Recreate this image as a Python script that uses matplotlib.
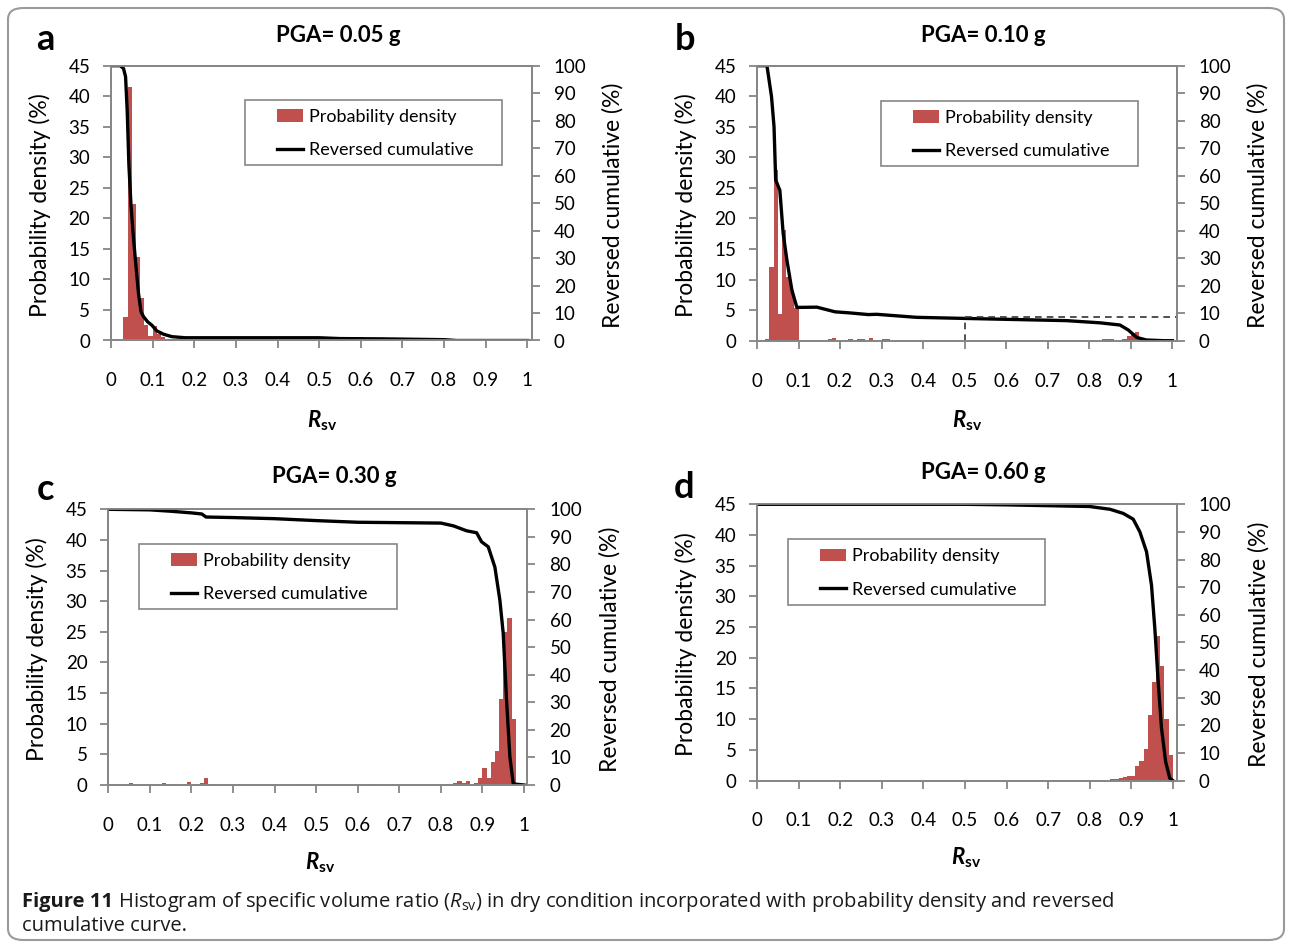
import numpy as np
import matplotlib
matplotlib.use("Agg")
import matplotlib.pyplot as plt
from matplotlib.patches import Patch, Rectangle, FancyBboxPatch
from matplotlib.lines import Line2D
from matplotlib.text import Annotation

# ---------------- data ----------------
titles = ["PGA= 0.05 g", "PGA= 0.10 g", "PGA= 0.30 g", "PGA= 0.60 g"]
letters = ["a", "b", "c", "d"]
xtick_vals = [0, 0.1, 0.2, 0.3, 0.4, 0.5, 0.6, 0.7, 0.8, 0.9, 1.0]
xtick_labels = ["0", "0.1", "0.2", "0.3", "0.4", "0.5", "0.6", "0.7", "0.8", "0.9", "1"]
legend_labels = ["Probability density", "Reversed cumulative"]

# histogram bins (left edge, width 0.01) and probability density (%)
a_bin = [0.03, 0.04, 0.05, 0.06, 0.07, 0.08, 0.09, 0.10, 0.11, 0.12, 0.13, 0.14, 0.15, 0.16, 0.17]
a_pd = [3.8, 41.5, 22.3, 13.6, 7.0, 2.5, 0.8, 2.3, 1.1, 0.5, 0.3, 0.2, 0.2, 0.1, 0.1]
a_cx = [0, 0.022, 0.030, 0.035, 0.039, 0.043, 0.048, 0.054, 0.059, 0.066, 0.072, 0.078, 0.088,
        0.098, 0.110, 0.126, 0.146, 0.178, 0.30, 0.50, 0.55, 0.65, 0.80, 0.83, 1.0]
a_cy = [100, 100, 99, 96, 83.3, 63.9, 49.3, 37.2, 28.7, 17.2, 10.5, 8.7, 6.8,
        5.6, 3.5, 2.3, 1.4, 1.0, 1.0, 1.0, 0.7, 0.6, 0.3, 0, 0]

b_bin = [0.02, 0.03, 0.04, 0.05, 0.06, 0.07, 0.08, 0.09, 0.17, 0.18, 0.22, 0.24, 0.25, 0.27,
         0.30, 0.31, 0.38, 0.46, 0.83, 0.84, 0.85, 0.88, 0.89, 0.90, 0.91, 0.92]
b_pd = [0.2, 12.1, 28.0, 4.3, 18.1, 10.5, 8.3, 5.3, 0.3, 0.5, 0.2, 0.2, 0.2, 0.4,
        0.2, 0.3, 0.1, 0.1, 0.3, 0.3, 0.3, 0.3, 0.7, 1.3, 1.4, 0.5]
b_cx = [0, 0.024, 0.035, 0.041, 0.045, 0.055, 0.063, 0.072, 0.084, 0.096, 0.144, 0.188, 0.224,
        0.268, 0.288, 0.384, 0.50, 0.745, 0.826, 0.874, 0.894, 0.914, 0.938, 0.98, 1.0]
b_cy = [100, 100, 88.7, 77.8, 58.4, 54.7, 39.0, 29.3, 18.4, 12.1, 12.2, 10.5, 10.1,
        9.5, 9.6, 8.5, 8.1, 7.3, 6.5, 5.7, 3.9, 1.2, 0.25, 0, 0]
b_ref_x = 0.5
b_ref_y = 8.7

c_bin = [0.05, 0.13, 0.14, 0.15, 0.18, 0.19, 0.22, 0.23, 0.24, 0.45, 0.47, 0.63, 0.64, 0.81, 0.82,
         0.83, 0.84, 0.85, 0.86, 0.87, 0.88, 0.89, 0.90, 0.91, 0.92, 0.93, 0.94, 0.95, 0.96,
         0.97, 0.98, 0.99]
c_pd = [0.4, 0.4, 0.2, 0.2, 0.2, 0.5, 0.3, 1.1, 0.2, 0.2, 0.2, 0.2, 0.2, 0.2, 0.1,
        0.4, 0.6, 0.4, 0.6, 0.2, 0.4, 1.1, 2.7, 1.2, 3.8, 5.6, 14.0, 24.9, 27.2,
        10.7, 0.3, 0.1]
c_cx = [0, 0.10, 0.15, 0.20, 0.225, 0.235, 0.30, 0.40, 0.50, 0.60, 0.80, 0.83, 0.862, 0.886,
        0.898, 0.914, 0.930, 0.942, 0.950, 0.958, 0.966, 0.974, 0.98, 1.0]
c_cy = [100, 99.8, 99.3, 98.7, 98.3, 97.2, 97.0, 96.6, 95.9, 95.3, 95.0, 94.0, 92.2, 91.5,
        88.2, 86.4, 79.0, 67.0, 55.0, 30.8, 10.3, 0.6, 0.3, 0]

d_bin = [0.55, 0.75, 0.79, 0.83, 0.85, 0.86, 0.87, 0.88, 0.89, 0.90, 0.91, 0.92, 0.93, 0.94,
         0.95, 0.96, 0.97, 0.98, 0.99]
d_pd = [0.1, 0.1, 0.1, 0.1, 0.3, 0.3, 0.45, 0.65, 0.7, 0.75, 2.3, 3.2, 5.1, 10.7,
        16.0, 23.6, 18.6, 10.1, 4.2]
d_cx = [0, 0.50, 0.60, 0.70, 0.80, 0.849, 0.881, 0.905, 0.921, 0.937, 0.949, 0.957, 0.965,
        0.973, 0.983, 0.993, 1.0]
d_cy = [100, 100, 99.8, 99.5, 99.2, 98.2, 96.7, 94.6, 90.0, 82.8, 70.7, 55.0, 35.9,
        19.0, 6.8, 0.8, 0]

bins = [a_bin, b_bin, c_bin, d_bin]
pds = [a_pd, b_pd, c_pd, d_pd]
cxs = [a_cx, b_cx, c_cx, d_cx]
cys = [a_cy, b_cy, c_cy, d_cy]

# ---------------- style ----------------
W, H = 1292, 947
RED = "#C0504D"
GRAY = "#868686"
FONT = "Lato"
plt.rcParams["font.family"] = [FONT, "DejaVu Sans"]
plt.rcParams["mathtext.fontset"] = "custom"
plt.rcParams["mathtext.rm"] = "Open Sans"
plt.rcParams["mathtext.it"] = "Open Sans:italic"
plt.rcParams["mathtext.bf"] = "Lato:bold"
try:
    plt.rcParams["mathtext.bfit"] = "Lato:italic:bold"
    XLAB = r"$\mathbfit{R}_{\mathbf{sv}}$"
except KeyError:
    XLAB = r"$\mathbf{R}_{\mathbf{sv}}$"

fig = plt.figure(figsize=(W / 100, H / 100), dpi=100)

def fx(px):
    return px / W

def fy(py):
    return 1 - py / H

# layout in pixels: left(x=0), x=1 position, right axis, top, bottom
layouts = [
    dict(l=111, one=527.3, r=531.7, t=65.7, b=340.5, ylab_l=40, ylab_r=613, xlab=(322, 427),
         title=(338, 42), letter=(45, 50), leg=(245, 100, 257, 65)),
    dict(l=757, one=1172.3, r=1176.7, t=65.7, b=340.7, ylab_l=686, ylab_r=1258, xlab=(967, 427),
         title=(983, 42), letter=(685, 50), leg=(881, 101, 257, 65)),
    dict(l=108.3, one=524, r=527.3, t=509.3, b=785, ylab_l=37, ylab_r=610, xlab=(320, 869),
         title=(334, 483), letter=(45, 500), leg=(139, 544, 258, 65)),
    dict(l=757.3, one=1172.7, r=1176.7, t=504.3, b=780.5, ylab_l=686, ylab_r=1259, xlab=(966, 864),
         title=(983, 479), letter=(684, 498), leg=(788, 539, 257, 66)),
]

TICK_FS = 13.5
for i, L in enumerate(layouts):
    ax = fig.add_axes([fx(L["l"]), fy(L["b"]), fx(L["r"] - L["l"]), (L["b"] - L["t"]) / H])
    xmax = (L["r"] - L["l"]) / (L["one"] - L["l"])
    ax.bar(bins[i], pds[i], width=0.01, align="edge", color=RED, linewidth=0)
    ax.set_xlim(0, xmax)
    ax.set_ylim(0, 45)
    ax.set_yticks(np.arange(0, 46, 5))
    ax.set_xticks(xtick_vals)
    ax.set_xticklabels(xtick_labels)
    ax.tick_params(axis="both", direction="out", length=6, width=1.3, color=GRAY, labelsize=TICK_FS)
    ax.tick_params(axis="x", pad=17)
    ax.tick_params(axis="y", pad=9)
    ax2 = ax.twinx()
    ax2.plot(cxs[i], cys[i], color="black", lw=2.4, solid_joinstyle="round")
    if i == 1:
        ax2.plot([b_ref_x, b_ref_x], [0, b_ref_y], color="#333333", lw=1.2, ls=(0, (4, 3)))
        ax2.plot([b_ref_x, xmax], [b_ref_y, b_ref_y], color="#333333", lw=1.2, ls=(0, (4, 3)))
    ax2.set_ylim(0, 100)
    ax2.set_xlim(0, xmax)
    ax2.set_yticks(np.arange(0, 101, 10))
    ax2.tick_params(axis="y", direction="out", length=6, width=1.3, color=GRAY, labelsize=TICK_FS, pad=10)
    for a in (ax, ax2):
        for s in a.spines.values():
            s.set_color(GRAY)
            s.set_linewidth(1.3)
    # axis labels
    fig.text(fx(L["ylab_l"]), fy((L["t"] + L["b"]) / 2 + 2), "Probability density (%)", rotation=90,
             ha="center", va="center", fontsize=16.5)
    fig.text(fx(L["ylab_r"]), fy((L["t"] + L["b"]) / 2 + 2), "Reversed cumulative (%)", rotation=90,
             ha="center", va="center", fontsize=16.5)
    fig.text(fx(L["xlab"][0]), fy(L["xlab"][1]), XLAB, ha="center", va="baseline", fontsize=16)
    fig.text(fx(L["title"][0]), fy(L["title"][1]), titles[i], ha="center", va="baseline",
             fontsize=16, fontweight="bold")
    fig.text(fx(L["letter"][0]), fy(L["letter"][1]), letters[i], ha="center", va="baseline",
             fontsize=26, fontweight="bold")
    # legend
    lx, ly, lw_, lh = L["leg"]
    fig.add_artist(Rectangle((fx(lx), fy(ly + lh)), fx(lw_), lh / H, transform=fig.transFigure,
                             facecolor="white", edgecolor=GRAY, linewidth=1.2, zorder=5))
    handles = [Patch(facecolor=RED, edgecolor="none"), Line2D([], [], color="black", lw=2.4)]
    leg = fig.legend(handles, legend_labels, loc="center left",
                     bbox_to_anchor=(fx(lx + 32), fy(ly + lh / 2 + 1)), frameon=False,
                     fontsize=13, borderpad=0, handlelength=1.45, handletextpad=0.3,
                     labelspacing=0.95, borderaxespad=0)
    leg.set_zorder(6)

# caption
CAP_FS = 14.5
base1 = 907
t1 = fig.text(fx(22), fy(base1), "Figure 11", fontweight="bold", family="Open Sans",
              fontsize=CAP_FS, va="baseline", ha="left", color="#1a1a1a")
cap = Annotation(" Histogram of specific volume ratio ($\\mathit{R}_{\\mathrm{sv}}$) in dry condition "
                 "incorporated with probability density and reversed",
                 xy=(1, fy(base1)), xycoords=(t1, "figure fraction"), va="baseline", ha="left",
                 family="Open Sans", fontsize=CAP_FS, color="#1a1a1a")
fig.add_artist(cap)
fig.text(fx(22), fy(931), "cumulative curve.", family="Open Sans", fontsize=CAP_FS,
         va="baseline", ha="left", color="#1a1a1a")

# outer rounded frame
fig.add_artist(FancyBboxPatch((fx(8), fy(940)), fx(1276), 932 / H, transform=fig.transFigure,
                              boxstyle="round,pad=0,rounding_size=0.012", facecolor="none",
                              edgecolor="#9a9a9a", linewidth=1.5, zorder=0))

fig.savefig("out.png", dpi=100)
